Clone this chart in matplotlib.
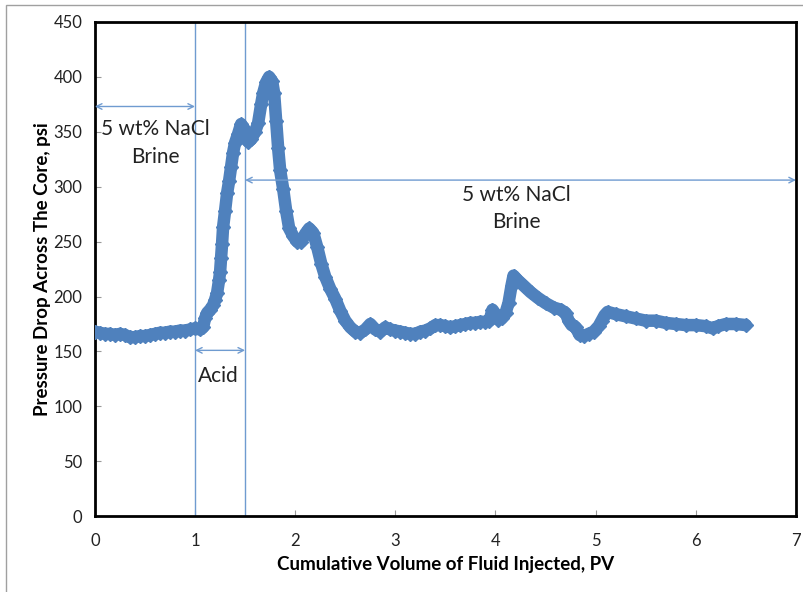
import matplotlib.pyplot as plt
from matplotlib.patches import Rectangle

plt.rcParams['font.family'] = ['Lato', 'DejaVu Sans']

# pressure drop readings (PV, psi)
pv = [0.00, 0.05, 0.10, 0.15, 0.20, 0.25, 0.30, 0.35, 0.40, 0.45, 0.50, 0.55, 0.60, 0.65,
      0.70, 0.75, 0.80, 0.85, 0.90, 0.95, 1.00, 1.05, 1.08, 1.10, 1.12, 1.15, 1.18, 1.20,
      1.22, 1.24, 1.25, 1.26, 1.27, 1.28, 1.30, 1.32, 1.34, 1.36, 1.38, 1.40, 1.43, 1.46,
      1.48, 1.50, 1.53, 1.56, 1.60, 1.63, 1.66, 1.68, 1.71, 1.74, 1.77, 1.79, 1.81, 1.83,
      1.85, 1.88, 1.91, 1.94, 1.98, 2.02, 2.06, 2.10, 2.14, 2.18, 2.22, 2.26, 2.30, 2.35,
      2.40, 2.45, 2.50, 2.55, 2.60, 2.65, 2.70, 2.75, 2.80, 2.85, 2.90, 2.95, 3.00, 3.05,
      3.10, 3.15, 3.20, 3.25, 3.30, 3.35, 3.40, 3.45, 3.50, 3.55, 3.60, 3.65, 3.70, 3.75,
      3.80, 3.85, 3.90, 3.94, 3.97, 4.00, 4.03, 4.06, 4.10, 4.13, 4.16, 4.18, 4.22, 4.28,
      4.35, 4.42, 4.50, 4.58, 4.65, 4.70, 4.73, 4.76, 4.80, 4.84, 4.88, 4.93, 4.98, 5.03,
      5.06, 5.09, 5.12, 5.20, 5.30, 5.40, 5.50, 5.60, 5.70, 5.80, 5.90, 6.00, 6.10, 6.17,
      6.22, 6.30, 6.40, 6.50]
dp = [168, 167, 166, 166, 165, 166, 165, 163, 163, 164, 164, 165, 166, 167,
      167, 168, 168, 169, 169, 170, 171, 170, 172, 180, 185, 188, 192, 197,
      203, 215, 222, 235, 248, 263, 278, 294, 305, 318, 331, 340, 348, 357,
      354, 345, 341, 343, 350, 358, 375, 385, 395, 400, 396, 385, 360, 335,
      315, 298, 278, 262, 255, 250, 250, 257, 262, 258, 245, 230, 218, 207,
      198, 187, 178, 172, 168, 167, 170, 175, 170, 168, 172, 170, 169, 168,
      167, 166, 166, 168, 169, 171, 174, 174, 173, 172, 173, 174, 175, 176,
      176, 177, 177, 178, 188, 184, 179, 180, 185, 194, 210, 219, 215, 210,
      204, 199, 194, 190, 188, 185, 178, 174, 172, 165, 164, 166, 168, 173,
      178, 183, 186, 184, 182, 180, 178, 178, 176, 175, 174, 174, 173, 171,
      173, 175, 175, 174]

xticks = [0, 1, 2, 3, 4, 5, 6, 7]
yticks = [0, 50, 100, 150, 200, 250, 300, 350, 400, 450]

blue = '#4F81BD'
guide = '#6F9BD0'

fig = plt.figure(figsize=(8.04, 5.92), dpi=100)
ax = fig.add_axes([0.118, 0.128, 0.872, 0.835])

ax.plot(pv, dp, color=blue, linewidth=9, marker='D', markersize=7,
        solid_joinstyle='round', solid_capstyle='round', zorder=3)

ax.axvline(1.0, color=guide, linewidth=1)
ax.axvline(1.5, color=guide, linewidth=1)

arrow = dict(arrowstyle='<->', color=guide, lw=1, shrinkA=0, shrinkB=0)
ax.annotate('', xy=(0, 373), xytext=(1.0, 373), arrowprops=arrow)
ax.annotate('', xy=(1.0, 151), xytext=(1.5, 151), arrowprops=arrow)
ax.annotate('', xy=(1.5, 306), xytext=(7.0, 306), arrowprops=arrow)

ax.text(0.6, 340, '5 wt% NaCl\nBrine', ha='center', va='center', fontsize=15,
        linespacing=1.5, color='#222222')
ax.text(1.23, 128, 'Acid', ha='center', va='center', fontsize=15, color='#222222')
ax.text(4.21, 280, '5 wt% NaCl\nBrine', ha='center', va='center', fontsize=15,
        linespacing=1.45, color='#222222')

ax.set_xlim(0, 7)
ax.set_ylim(0, 450)
ax.set_xticks(xticks)
ax.set_yticks(yticks)
ax.tick_params(direction='in', length=4, color='#999999', labelsize=12,
               labelcolor='#222222')
ax.tick_params(axis='x', pad=12)
ax.tick_params(axis='y', pad=9)

for s in ax.spines.values():
    s.set_linewidth(2)
    s.set_color('black')

ax.set_xlabel('Cumulative Volume of Fluid Injected, PV', fontsize=13.5,
              fontweight='bold', labelpad=5)
ax.set_ylabel('Pressure Drop Across The Core, psi', fontsize=13.5,
              fontweight='bold', labelpad=2)

fig.patches.append(Rectangle((6 / 804, -0.05), 1.1, 1.05 - 5 / 592,
                             transform=fig.transFigure, fill=False,
                             edgecolor='#A0A0A0', linewidth=1))

fig.savefig('out.png', dpi=100)
